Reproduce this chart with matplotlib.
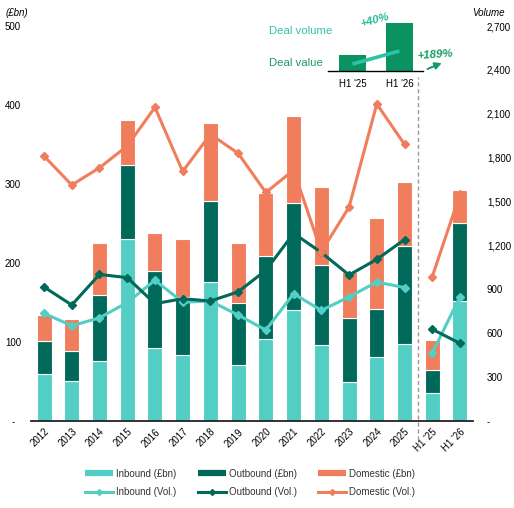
import numpy as np
import matplotlib
matplotlib.use('Agg')
import matplotlib.pyplot as plt
from matplotlib.lines import Line2D

plt.rcParams['font.family'] = ['Liberation Sans', 'DejaVu Sans']

# ── Data ─────────────────────────────────────────────────────────────
periods = ['2012', '2013', '2014', '2015', '2016', '2017', '2018', '2019',
           '2020', '2021', '2022', '2023', '2024', '2025', "H1 '25", "H1 '26"]

# deal value, £bn (stacked bars)
inbound_bn = [59, 51, 76, 230, 93, 83, 176, 71, 104, 140, 96, 50, 81, 97, 35, 152]
outbound_bn = [42, 37, 84, 94, 97, 74, 103, 79, 105, 136, 102, 81, 61, 124, 30, 99]
domestic_bn = [33, 41, 65, 57, 48, 73, 98, 75, 80, 110, 98, 58, 115, 81, 37, 41]

# deal volume (lines, right axis)
inbound_vol = [736, 651, 705, 810, 962, 812, 820, 724, 622, 870, 756, 848, 950, 912, 463, 850]
outbound_vol = [916, 793, 1002, 980, 802, 836, 820, 883, 1030, 1283, 1152, 998, 1105, 1240, 627, 531]
domestic_vol = [1811, 1613, 1731, 1880, 2144, 1706, 1960, 1830, 1562, 1715, 1157, 1462, 2167, 1891, 986, 1550]

n_annual = 14  # 2012-2025, then the two half-years

left_ticks = [0, 100, 200, 300, 400, 500]
right_ticks = [0, 300, 600, 900, 1200, 1500, 1800, 2100, 2400, 2700]

# inset: H1 '25 vs H1 '26
inset_labels = ["H1 '25", "H1 '26"]
inset_bars = [16, 48]
inset_line = [7, 20]

C_IN = '#52CEC4'
C_OUT = '#00695A'
C_DOM = '#F07D5C'
C_GREEN = '#0A9360'
C_TEAL_TXT = '#35C0A8'

# ── Figure ───────────────────────────────────────────────────────────
W, H = 514, 508
fig = plt.figure(figsize=(W / 100, H / 100), dpi=100)
ax = fig.add_axes([31 / W, 1 - 421 / H, 442 / W, 395 / H])

x = np.arange(len(periods))
inb = np.array(inbound_bn)
outb = np.array(outbound_bn)
dom = np.array(domestic_bn)
bw = 0.54
ax.bar(x, inb, bw, color=C_IN, edgecolor='white', linewidth=0.8)
ax.bar(x, outb, bw, bottom=inb, color=C_OUT, edgecolor='white', linewidth=0.8)
ax.bar(x, dom, bw, bottom=inb + outb, color=C_DOM, edgecolor='white', linewidth=0.8)

ax.set_xlim(-0.47, 15.47)
ax.set_ylim(0, 500)
ax.set_yticks(left_ticks)
ax.set_yticklabels(['-'] + [str(v) for v in left_ticks[1:]])
ax.set_xticks(x)
ax.set_xticklabels(periods, rotation=45, ha='right', va='top', rotation_mode='anchor')
ax.tick_params(axis='x', length=0, pad=4, labelsize=7)
ax.tick_params(axis='y', length=0, pad=13, labelsize=7)
for lab in ax.get_yticklabels():
    lab.set_horizontalalignment('center')
for s in ['top', 'left', 'right']:
    ax.spines[s].set_visible(False)
ax.spines['bottom'].set_linewidth(1.3)
ax.spines['bottom'].set_color('#222222')

ax2 = ax.twinx()
ax2.set_ylim(0, 2700)
ax2.set_yticks(right_ticks)
ax2.set_yticklabels(['-'] + [f'{v:,}' for v in right_ticks[1:]])
ax2.tick_params(axis='y', length=0, pad=10, labelsize=7)
for s in ['top', 'left', 'right', 'bottom']:
    ax2.spines[s].set_visible(False)

for vals, col in [(inbound_vol, C_IN), (outbound_vol, C_OUT), (domestic_vol, C_DOM)]:
    v = np.array(vals, dtype=float)
    for sl in (slice(0, n_annual), slice(n_annual, None)):
        ax2.plot(x[sl], v[sl], color=col, lw=2.2, marker='D', ms=4.5)

# dashed divider between annual and half-year data
ax.axvline(n_annual - 0.5, ymin=-0.066, ymax=0.871, color='#9A9A9A', lw=1.0,
           ls=(0, (3, 2)), clip_on=False, zorder=5)

fig.text(6 / W, 1 - 13 / H, '(£bn)', fontsize=7, style='italic', va='center', ha='left')
fig.text(505 / W, 1 - 13 / H, 'Volume', fontsize=7, style='italic', va='center', ha='right')

# ── Inset ────────────────────────────────────────────────────────────
axi = fig.add_axes([328 / W, 1 - 71 / H, 95 / W, 50 / H])
axi.bar([0, 1], inset_bars, 0.574, color=C_GREEN)
axi.plot([0, 1], inset_line, color='#2CC4A6', lw=2.6, solid_capstyle='butt')
axi.set_xlim(-0.52, 1.5)
axi.set_ylim(0, 50)
axi.set_xticks([0, 1])
axi.set_xticklabels(inset_labels)
axi.tick_params(axis='x', length=0, pad=6, labelsize=7)
axi.set_yticks([])
for s in ['top', 'left', 'right']:
    axi.spines[s].set_visible(False)
axi.spines['bottom'].set_linewidth(1.0)
axi.patch.set_alpha(0)

fig.text(269 / W, 1 - 31 / H, 'Deal volume', fontsize=8.2, color=C_TEAL_TXT, va='center', ha='left')
fig.text(269 / W, 1 - 63 / H, 'Deal value', fontsize=8.2, color='#1E9A62', va='center', ha='left')
fig.text(375 / W, 1 - 20 / H, '+40%', fontsize=8.2, color='#2BB8A0', fontweight='bold',
         style='italic', rotation=15, va='center', ha='center')
fig.text(435 / W, 1 - 55 / H, '+189%', fontsize=8.2, color='#179A63', fontweight='bold',
         style='italic', rotation=4, va='center', ha='center')
fig.add_artist(plt.annotate('', xy=(444, H - 62), xytext=(425, H - 70),
                            xycoords='figure pixels', textcoords='figure pixels',
                            arrowprops=dict(arrowstyle='-|>', color='#179A63', lw=1.2,
                                            mutation_scale=10)))

# ── Legend ───────────────────────────────────────────────────────────
handles = [
    Line2D([], [], color=C_IN, lw=4.5, solid_capstyle='butt'),
    Line2D([], [], color=C_IN, lw=2.2, marker='D', ms=3),
    Line2D([], [], color=C_OUT, lw=4.5, solid_capstyle='butt'),
    Line2D([], [], color=C_OUT, lw=2.2, marker='D', ms=3),
    Line2D([], [], color=C_DOM, lw=4.5, solid_capstyle='butt'),
    Line2D([], [], color=C_DOM, lw=2.2, marker='D', ms=3),
]
labels = ['Inbound (£bn)', 'Inbound (Vol.)', 'Outbound (£bn)', 'Outbound (Vol.)',
          'Domestic (£bn)', 'Domestic (Vol.)']
fig.legend(handles, labels, ncol=3, loc='center', bbox_to_anchor=(250 / W, 1 - 483 / H),
           frameon=False, fontsize=7, handlelength=2.9, handletextpad=0.3,
           columnspacing=2.2, labelspacing=0.9, labelcolor='#333333')

fig.savefig('out.png', dpi=100)
